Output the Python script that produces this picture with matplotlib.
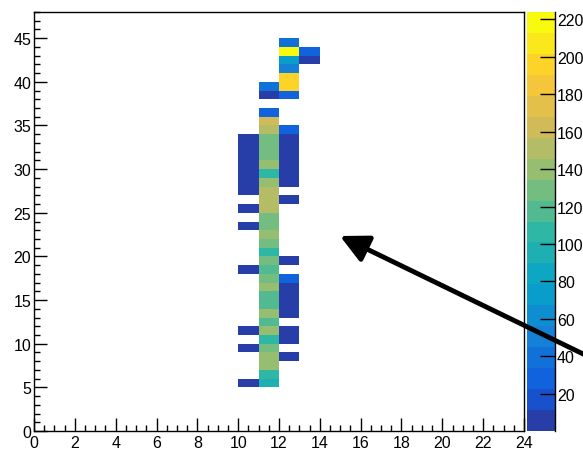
import numpy as np
import matplotlib
matplotlib.use("Agg")
import matplotlib.pyplot as plt
from matplotlib.colors import LinearSegmentedColormap, ListedColormap, BoundaryNorm
from matplotlib.patches import FancyArrowPatch
from matplotlib.ticker import MultipleLocator

plt.rcParams["font.family"] = ["Liberation Sans", "DejaVu Sans"]

# Histogram binning
x_edges = np.arange(0, 25, 1)
y_edges = np.arange(0, 49, 1)
z_max = 224
n_levels = 20

# Bin contents per x column: lower edge of each filled y bin and its content
col10_y = [5, 9, 11, 18, 23, 25, 27, 28, 29, 30, 31, 32, 33]
col10_z = [5, 5, 5, 5, 5, 5, 5, 5, 5, 5, 5, 5, 5]

col11_y = [5, 6, 7, 8, 9, 10, 11, 12, 13, 14, 15, 16, 17, 18, 19, 20,
           21, 22, 23, 24, 25, 26, 27, 28, 29, 30, 31, 32, 33, 34, 35, 36,
           38, 39]
col11_z = [95, 106, 140, 140, 129, 106, 140, 117, 140, 117, 117, 140, 129, 117, 129, 106,
           129, 140, 129, 129, 151, 151, 151, 140, 106, 140, 129, 129, 129, 151, 162, 28,
           5, 39]

col12_y = [8, 10, 11, 13, 14, 15, 16, 17, 19, 26, 28, 29, 30, 31, 32, 33,
           34, 38, 39, 40, 41, 42, 43, 44]
col12_z = [5, 5, 5, 5, 5, 5, 5, 28, 5, 5, 5, 5, 5, 5, 5, 5,
           28, 28, 196, 196, 50, 73, 222, 39]

col13_y = [42, 43]
col13_z = [5, 28]

columns = {10: (col10_y, col10_z), 11: (col11_y, col11_z),
           12: (col12_y, col12_z), 13: (col13_y, col13_z)}

counts = np.zeros((len(y_edges) - 1, len(x_edges) - 1))
for xi, (ys, zs) in columns.items():
    for yi, z in zip(ys, zs):
        counts[yi, xi] = z
counts = np.ma.masked_equal(counts, 0)

# ROOT "bird" palette, sampled at 20 discrete contour levels
stops = [0.0, 0.125, 0.25, 0.375, 0.5, 0.625, 0.75, 0.875, 1.0]
red = [0.2082, 0.0592, 0.0780, 0.0232, 0.1802, 0.5301, 0.8186, 0.9956, 0.9764]
green = [0.1664, 0.3599, 0.5041, 0.6419, 0.7178, 0.7492, 0.7328, 0.7862, 0.9832]
blue = [0.5293, 0.8684, 0.8385, 0.7914, 0.6425, 0.4662, 0.3499, 0.1968, 0.0539]
bird = LinearSegmentedColormap.from_list(
    "bird", [(s, (r, g, b)) for s, r, g, b in zip(stops, red, green, blue)], N=255)
level_cmap = ListedColormap([bird((i + 0.99) / n_levels) for i in range(n_levels)])
levels = np.linspace(0, z_max, n_levels + 1)
norm = BoundaryNorm(levels, n_levels)

fig = plt.figure(figsize=(5.83, 4.52), dpi=100)
ax = fig.add_axes([34 / 583, 1 - 432 / 452, 490 / 583, 419 / 452])
cax = fig.add_axes([527 / 583, 1 - 432 / 452, 28 / 583, 419 / 452])

mesh = ax.pcolormesh(x_edges, y_edges, counts, cmap=level_cmap, norm=norm)
ax.set_xlim(0, 24)
ax.set_ylim(0, 48)

ax.xaxis.set_major_locator(MultipleLocator(2))
ax.xaxis.set_minor_locator(MultipleLocator(0.5))
ax.yaxis.set_major_locator(MultipleLocator(5))
ax.yaxis.set_minor_locator(MultipleLocator(1))
ax.tick_params(which="both", direction="in", top=False, right=False,
               labelsize=11.5, width=1, color="black")
ax.tick_params(which="major", length=9.5)
ax.tick_params(which="minor", length=4.5)
ax.tick_params(axis="x", pad=3)
ax.tick_params(axis="y", pad=2)
for sp in ax.spines.values():
    sp.set_linewidth(1)

cbar = fig.colorbar(mesh, cax=cax, ticks=np.arange(20, 221, 20))
cbar.outline.set_visible(False)
cbar.ax.yaxis.set_minor_locator(plt.NullLocator())
cax.tick_params(direction="in", length=10.5, width=1, labelsize=11.5, pad=1.5)
cax.plot([1, 1], [0, 1], transform=cax.transAxes, color="black", lw=1,
         clip_on=False)

# Pointer arrow drawn across the canvas
arrow = FancyArrowPatch(
    (610 / 583, 1 - 368 / 452), (340 / 583, 1 - 237 / 452),
    transform=fig.transFigure, arrowstyle="-|>,head_length=1.0,head_width=0.5",
    mutation_scale=17, lw=3.5, color="black", clip_on=False, shrinkA=0, shrinkB=0)
fig.add_artist(arrow)

fig.savefig("out.png", dpi=100)
